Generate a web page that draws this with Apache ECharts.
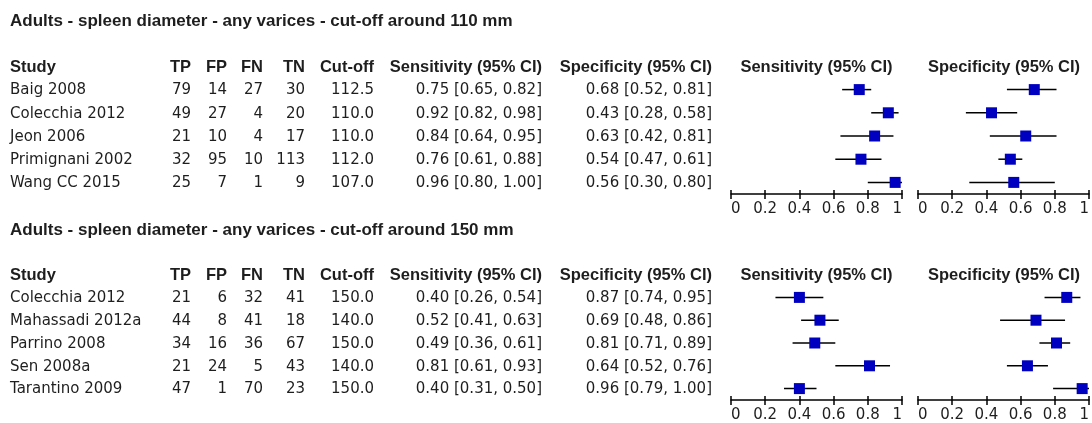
<!DOCTYPE html>
<html>
<head>
<meta charset="utf-8">
<script src="https://cdn.jsdelivr.net/npm/echarts@6/dist/echarts.min.js"></script>
<style>
  html, body { margin: 0; padding: 0; background: #ffffff; }
  #chart { width: 1092px; height: 423px; }
</style>
</head>
<body>
<div id="chart"></div>
<script>
// ---- Data: cut-off around 110 mm ----
const title1 = 'Adults - spleen diameter - any varices - cut-off around 110 mm';
const studies1 = ['Baig 2008', 'Colecchia 2012', 'Jeon 2006', 'Primignani 2002', 'Wang CC 2015'];
const tp1 = [79, 49, 21, 32, 25];
const fp1 = [14, 27, 10, 95, 7];
const fn1 = [27, 4, 4, 10, 1];
const tn1 = [30, 20, 17, 113, 9];
const cut1 = [112.5, 110.0, 110.0, 112.0, 107.0];
const sens1 = [0.75, 0.92, 0.84, 0.76, 0.96];
const sensLo1 = [0.65, 0.82, 0.64, 0.61, 0.80];
const sensHi1 = [0.82, 0.98, 0.95, 0.88, 1.00];
const spec1 = [0.68, 0.43, 0.63, 0.54, 0.56];
const specLo1 = [0.52, 0.28, 0.42, 0.47, 0.30];
const specHi1 = [0.81, 0.58, 0.81, 0.61, 0.80];

// ---- Data: cut-off around 150 mm ----
const title2 = 'Adults - spleen diameter - any varices - cut-off around 150 mm';
const studies2 = ['Colecchia 2012', 'Mahassadi 2012a', 'Parrino 2008', 'Sen 2008a', 'Tarantino 2009'];
const tp2 = [21, 44, 34, 21, 47];
const fp2 = [6, 8, 16, 24, 1];
const fn2 = [32, 41, 36, 5, 70];
const tn2 = [41, 18, 67, 43, 23];
const cut2 = [150.0, 140.0, 150.0, 140.0, 150.0];
const sens2 = [0.40, 0.52, 0.49, 0.81, 0.40];
const sensLo2 = [0.26, 0.41, 0.36, 0.61, 0.31];
const sensHi2 = [0.54, 0.63, 0.61, 0.93, 0.50];
const spec2 = [0.87, 0.69, 0.81, 0.64, 0.96];
const specLo2 = [0.74, 0.48, 0.71, 0.52, 0.79];
const specHi2 = [0.95, 0.86, 0.89, 0.76, 1.00];

// ---- Axis tick labels ----
const tickLabels = ['0', '0.2', '0.4', '0.6', '0.8', '1'];

// ---- Layout and style ----
const TEXT = '#1e1e1e';
const TITLE_FONT = 'bold 17px "Liberation Sans", Arial, sans-serif';
const BOLD = 'bold 16.5px "Liberation Sans", Arial, sans-serif';
const REG = '15px "DejaVu Sans", sans-serif';
const MARK = '#0000c0';
const sensPlot = { left: 731, width: 171 };
const specPlot = { left: 918, width: 172 };
const PLOT_H = 116;

const sections = [
  { title: title1, studies: studies1, tp: tp1, fp: fp1, fn: fn1, tn: tn1, cut: cut1,
    sens: sens1, sensLo: sensLo1, sensHi: sensHi1, spec: spec1, specLo: specLo1, specHi: specHi1,
    top: 78, titleY: 21, headY: 67 },
  { title: title2, studies: studies2, tp: tp2, fp: fp2, fn: fn2, tn: tn2, cut: cut2,
    sens: sens2, sensLo: sensLo2, sensHi: sensHi2, spec: spec2, specLo: specLo2, specHi: specHi2,
    top: 286, titleY: 230, headY: 275 }
];

const columns = [
  { header: 'Study', x: 10, align: 'left', cell: (s, i) => s.studies[i] },
  { header: 'TP', x: 191, align: 'right', cell: (s, i) => String(s.tp[i]) },
  { header: 'FP', x: 227, align: 'right', cell: (s, i) => String(s.fp[i]) },
  { header: 'FN', x: 263, align: 'right', cell: (s, i) => String(s.fn[i]) },
  { header: 'TN', x: 305, align: 'right', cell: (s, i) => String(s.tn[i]) },
  { header: 'Cut-off', x: 374, align: 'right', cell: (s, i) => s.cut[i].toFixed(1) },
  { header: 'Sensitivity (95% CI)', x: 542, align: 'right',
    cell: (s, i) => ci(s.sens[i], s.sensLo[i], s.sensHi[i]) },
  { header: 'Specificity (95% CI)', x: 712, align: 'right',
    cell: (s, i) => ci(s.spec[i], s.specLo[i], s.specHi[i]) }
];

function ci(v, lo, hi) {
  return v.toFixed(2) + ' [' + lo.toFixed(2) + ', ' + hi.toFixed(2) + ']';
}

const grids = [], xAxes = [], extraX = [], yAxes = [], series = [];

sections.forEach((sec, si) => {
  [[sensPlot, sec.sens, sec.sensLo, sec.sensHi], [specPlot, sec.spec, sec.specLo, sec.specHi]]
    .forEach(([plot, est, lo, hi], pi) => {
      const g = si * 2 + pi;
      grids.push({ left: plot.left, width: plot.width, top: sec.top, height: PLOT_H });
      // main axis: line, upper tick halves, labels
      xAxes.push({
        type: 'value', gridIndex: g, min: 0, max: 1, interval: 0.2, position: 'bottom',
        axisLine: { show: true, lineStyle: { color: '#000', width: 1.5 } },
        axisTick: { show: true, inside: true, length: 4, lineStyle: { color: '#000', width: 1.5 } },
        axisLabel: {
          show: true, margin: 8, color: TEXT, fontSize: 15, fontFamily: '"DejaVu Sans", sans-serif',
          showMinLabel: true, showMaxLabel: true,
          alignMinLabel: 'left', alignMaxLabel: 'right',
          formatter: v => tickLabels[Math.round(v / 0.2)]
        },
        splitLine: { show: false }
      });
      // companion axis: lower tick halves
      extraX.push({
        type: 'value', gridIndex: g, min: 0, max: 1, interval: 0.2, position: 'bottom',
        axisLine: { show: false },
        axisTick: { show: true, inside: false, length: 5, lineStyle: { color: '#000', width: 1.5 } },
        axisLabel: { show: false },
        splitLine: { show: false }
      });
      yAxes.push({
        type: 'category', gridIndex: g, data: sec.studies, inverse: true, show: false,
        boundaryGap: true
      });
      series.push({
        type: 'custom', xAxisIndex: g, yAxisIndex: g, z: 2,
        data: sec.studies.map((_, i) => [lo[i], hi[i], i]),
        encode: { x: [0, 1], y: 2 },
        renderItem: (params, api) => {
          const a = api.coord([api.value(0), api.value(2)]);
          const b = api.coord([api.value(1), api.value(2)]);
          return {
            type: 'line',
            shape: { x1: a[0], y1: a[1], x2: b[0], y2: b[1] },
            style: { stroke: '#000', lineWidth: 1.5 }
          };
        },
        silent: true
      });
      series.push({
        type: 'scatter', xAxisIndex: g, yAxisIndex: g, z: 3,
        symbol: 'rect', symbolSize: 11,
        itemStyle: { color: MARK, opacity: 1 },
        data: sec.studies.map((_, i) => [est[i], i]),
        silent: true
      });
    });
});

const chart = echarts.init(document.getElementById('chart'), null, { renderer: 'canvas' });
chart.setOption({
  animation: false,
  backgroundColor: '#ffffff',
  grid: grids,
  xAxis: xAxes.concat(extraX),
  yAxis: yAxes,
  series: series
});

// table text, headers and titles placed on the same row positions as the plot rows
const graphics = [];
function txt(text, x, y, font, align) {
  graphics.push({
    type: 'text', x: x, y: y, silent: true,
    style: { text: text, font: font, fill: TEXT, align: align, verticalAlign: 'middle' }
  });
}
sections.forEach((sec, si) => {
  txt(sec.title, 10, sec.titleY, TITLE_FONT, 'left');
  columns.forEach(col => {
    txt(col.header, col.x, sec.headY, BOLD, col.align);
    sec.studies.forEach((_, i) => {
      const y = chart.convertToPixel({ yAxisIndex: si * 2 }, i) + 1;
      txt(col.cell(sec, i), col.x, y, REG, col.align);
    });
  });
  txt('Sensitivity (95% CI)', sensPlot.left + sensPlot.width / 2, sec.headY, BOLD, 'center');
  txt('Specificity (95% CI)', specPlot.left + specPlot.width / 2, sec.headY, BOLD, 'center');
});
chart.setOption({ graphic: graphics });
</script>
</body>
</html>
